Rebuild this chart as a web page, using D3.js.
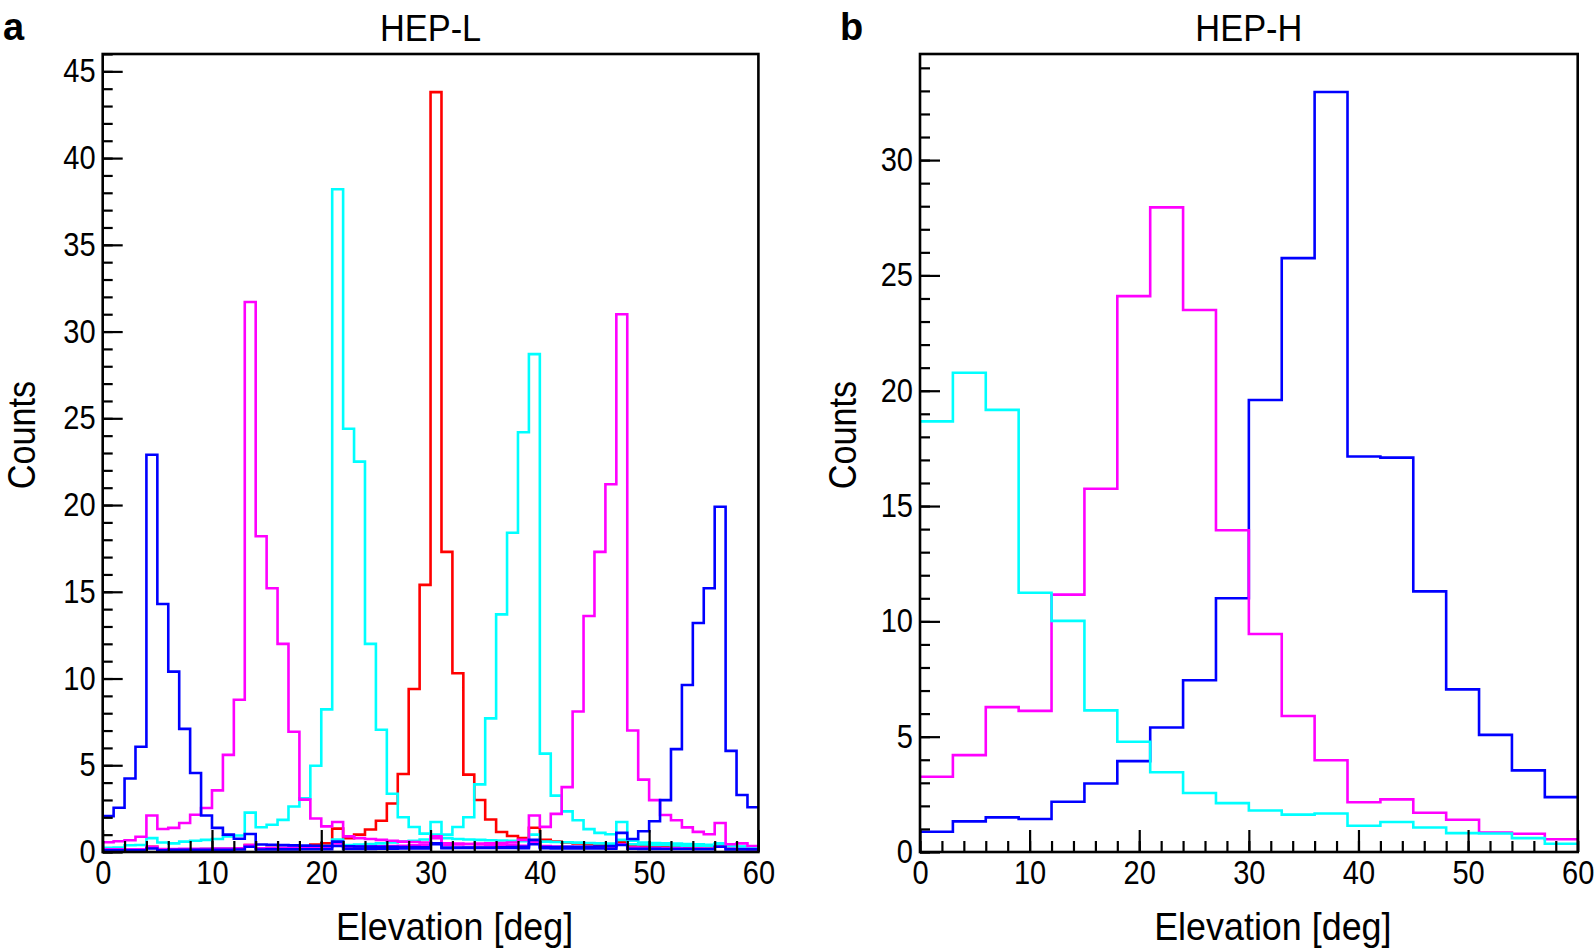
<!DOCTYPE html>
<html>
<head>
<meta charset="utf-8">
<script src="https://cdn.jsdelivr.net/npm/d3@7"></script>
<style>
body { margin: 0; background: #fff; }
svg { display: block; }
text { font-family: "Liberation Sans", Arial, Helvetica, sans-serif; fill: #000; }
</style>
</head>
<body>
<svg id="chart" width="1594" height="949"></svg>
<script>
// ---- data (counts per bin) ----
// HEP-L: 1 deg bins from 0 to 60
var hepL_red   = [0.10,0.10,0.11,0.12,0.30,0.13,0.14,0.15,0.16,0.17, 0.18,0.19,0.20,0.40,0.22,0.24,0.26,0.28,0.30,0.43,
                  0.50,1.35,0.80,1.00,1.30,1.80,2.80,4.50,9.40,15.4, 43.8,17.3,10.3,4.46,3.00,1.87,1.15,0.92,0.80,1.40,
                  0.70,0.60,0.55,0.50,0.45,0.42,0.40,0.60,0.36,0.34, 0.32,0.30,0.28,0.27,0.26,0.25,0.35,0.23,0.22,0.20];
var hepL_cyan1 = [0.24,0.26,0.39,0.40,0.80,0.55,0.50,0.60,0.65,0.70, 0.75,0.90,0.95,2.27,1.43,1.57,1.85,2.62,3.10,4.97,
                  8.22,38.2,24.4,22.5,12.0,7.05,3.36,2.00,1.44,1.06, 1.73,0.80,0.75,0.72,0.70,0.68,0.66,0.64,0.62,1.00,
                  0.60,0.58,0.56,0.54,0.52,0.50,0.48,0.70,0.45,0.43, 0.41,0.40,0.38,0.36,0.35,0.34,0.45,0.32,0.30,0.28];
var hepL_cyan2 = [0.12,0.12,0.13,0.13,0.25,0.14,0.15,0.15,0.16,0.17, 0.18,0.19,0.20,0.35,0.22,0.23,0.25,0.27,0.29,0.31,
                  0.34,0.72,0.40,0.43,0.46,0.50,0.55,0.60,0.65,0.72, 1.00,1.00,1.44,2.00,3.90,7.70,13.7,18.4,24.2,28.7,
                  5.67,3.25,2.34,1.83,1.32,1.10,1.02,1.73,0.65,0.55, 0.52,0.50,0.48,0.46,0.44,0.42,0.50,0.35,0.32,0.30];
var hepL_mag1  = [0.56,0.62,0.68,0.88,2.10,1.33,1.39,1.67,2.15,2.54, 3.55,5.60,8.78,31.7,18.2,15.2,12.0,6.93,3.02,1.93,
                  1.48,1.73,0.90,0.80,0.75,0.70,0.65,0.60,0.58,0.55, 0.90,0.50,0.48,0.46,0.44,0.42,0.40,0.38,0.36,0.60,
                  0.34,0.32,0.30,0.29,0.28,0.27,0.26,0.45,0.25,0.24, 0.23,0.22,0.21,0.20,0.20,0.19,0.30,0.18,0.17,0.16];
var hepL_mag2  = [0.15,0.15,0.16,0.16,0.30,0.17,0.17,0.18,0.18,0.19, 0.20,0.20,0.21,0.40,0.22,0.23,0.24,0.25,0.26,0.27,
                  0.28,0.50,0.30,0.31,0.32,0.33,0.34,0.36,0.38,0.40, 0.80,0.42,0.44,0.46,0.48,0.50,0.52,0.55,0.70,2.10,
                  1.45,2.20,3.74,8.10,13.6,17.3,21.2,31.0,7.00,4.17, 2.99,2.13,1.83,1.42,1.16,1.02,1.67,0.45,0.50,0.35];
var hepL_blue1 = [2.07,2.55,4.24,6.07,22.9,14.3,10.4,7.10,4.55,2.10, 1.39,1.00,0.76,1.04,0.43,0.42,0.40,0.38,0.37,0.36,
                  0.35,0.60,0.33,0.32,0.31,0.30,0.30,0.29,0.28,0.27, 0.50,0.26,0.25,0.25,0.24,0.24,0.23,0.23,0.22,0.45,
                  0.22,0.21,0.21,0.20,0.20,0.20,0.19,0.40,0.19,0.18, 0.18,0.17,0.17,0.17,0.16,0.16,0.30,0.15,0.15,0.15];
var hepL_blue2 = [0.10,0.10,0.10,0.10,0.20,0.10,0.12,0.12,0.12,0.13, 0.13,0.13,0.14,0.30,0.14,0.15,0.15,0.15,0.16,0.16,
                  0.16,0.35,0.17,0.18,0.18,0.19,0.19,0.20,0.20,0.21, 0.45,0.22,0.23,0.24,0.25,0.26,0.27,0.28,0.30,0.70,
                  0.28,0.29,0.30,0.30,0.30,0.32,0.35,1.10,0.75,1.20, 1.77,2.99,5.93,9.63,13.2,15.2,19.9,5.83,3.29,2.58];

// HEP-H: 3 deg bins from 0 to 60
var hepH_blue = [0.88,1.33,1.50,1.43,2.18,2.97,3.94,5.40,7.45,11.0,19.6,25.75,32.95,17.15,17.1,11.3,7.05,5.08,3.54,2.38];
var hepH_mag  = [3.26,4.20,6.28,6.12,11.16,15.75,24.1,27.95,23.5,13.95,9.45,5.90,3.98,2.16,2.28,1.70,1.40,0.84,0.79,0.55];
var hepH_cyan = [18.67,20.78,19.17,11.24,10.02,6.14,4.78,3.46,2.56,2.12,1.80,1.62,1.67,1.14,1.30,1.06,0.82,0.80,0.60,0.36];

var xMajorTicks = [0, 10, 20, 30, 40, 50, 60];


function HistPanel(opts) {
    var self = this;

    self.opts = opts;
    self.svg = d3.select("#chart");
    self.g = self.svg.append("g");

    self.init();
}

HistPanel.prototype.init = function () {
    var self = this;
    var o = self.opts;

    self.scaleX = d3.scaleLinear()
        .domain([0, 60])
        .range([o.left, o.right]);

    self.scaleY = d3.scaleLinear()
        .domain([0, o.yMax])
        .range([o.bottom, o.top]);
};

HistPanel.prototype.draw = function () {
    var self = this;
    var o = self.opts;
    var g = self.g;

    // histograms
    var line = d3.line()
        .x(function (d) { return self.scaleX(d[0]); })
        .y(function (d) { return self.scaleY(d[1]); })
        .curve(d3.curveStepAfter);

    var binW = 60 / o.series[0].values.length;

    g.selectAll('.hist')
        .data(o.series)
        .enter().append('path')
        .classed('hist', true)
        .attr('fill', 'none')
        .attr('stroke', function (d) { return d.color; })
        .attr('stroke-width', 2.6)
        .attr('d', function (d) {
            var pts = d.values.map(function (v, i) { return [i * binW, v]; });
            pts.push([60, d.values[d.values.length - 1]]);
            return line(pts);
        });

    // minor ticks
    g.append('g')
        .attr('transform', 'translate(0,' + o.bottom + ')')
        .call(d3.axisBottom(self.scaleX).tickValues(d3.range(0, 61, 2)).tickSize(-11).tickFormat(''));
    g.append('g')
        .attr('transform', 'translate(' + o.left + ',0)')
        .call(d3.axisLeft(self.scaleY).tickValues(d3.range(0, Math.floor(o.yMax) + 1, 1)).tickSize(-10).tickFormat(''));

    // major ticks with labels
    var xAxis = g.append('g')
        .attr('transform', 'translate(0,' + o.bottom + ')')
        .call(d3.axisBottom(self.scaleX).tickValues(xMajorTicks).tickSize(-22).tickPadding(9));
    var yAxis = g.append('g')
        .attr('transform', 'translate(' + o.left + ',0)')
        .call(d3.axisLeft(self.scaleY).tickValues(o.yTicks).tickSize(-20).tickPadding(8));

    g.selectAll('.domain').remove();
    g.selectAll('.tick line').attr('stroke', '#000').attr('stroke-width', 2.2);
    [xAxis, yAxis].forEach(function (ax) {
        ax.selectAll('text')
            .style('font-family', '"Liberation Sans", Arial, sans-serif')
            .attr('font-size', 33)
            .attr('transform', 'scale(0.88,1)');
    });

    // frame
    g.append('rect')
        .attr('x', o.left)
        .attr('y', o.top)
        .attr('width', o.right - o.left)
        .attr('height', o.bottom - o.top)
        .attr('fill', 'none')
        .attr('stroke', '#000')
        .attr('stroke-width', 2.6);

    // titles
    g.append('text')
        .attr('transform', 'translate(' + ((o.left + o.right) / 2) + ',41) scale(0.93,1)')
        .attr('text-anchor', 'middle')
        .attr('font-size', 37)
        .text(o.title);

    g.append('text')
        .attr('transform', 'translate(' + o.letterX + ',40)')
        .attr('font-size', 38)
        .attr('font-weight', 'bold')
        .text(o.letter);

    g.append('text')
        .attr('transform', 'translate(' + ((o.left + o.right) / 2 + 24) + ',940) scale(0.92,1)')
        .attr('text-anchor', 'middle')
        .attr('font-size', 39)
        .text('Elevation [deg]');

    g.append('text')
        .attr('transform', 'translate(' + (o.left - o.countsOff) + ',' + 435 + ') rotate(-90) scale(0.9,1)')
        .attr('text-anchor', 'middle')
        .attr('font-size', 38)
        .text('Counts');
};


var panelA = new HistPanel({
    left: 102.7, right: 758.4, top: 54, bottom: 852,
    yMax: 46,
    yTicks: [0, 5, 10, 15, 20, 25, 30, 35, 40, 45],
    title: 'HEP-L', letter: 'a', letterX: 3, countsOff: 68,
    series: [
        { color: '#ff0000', values: hepL_red },
        { color: '#00ffff', values: hepL_cyan1 },
        { color: '#00ffff', values: hepL_cyan2 },
        { color: '#ff00ff', values: hepL_mag1 },
        { color: '#ff00ff', values: hepL_mag2 },
        { color: '#0000ff', values: hepL_blue1 },
        { color: '#0000ff', values: hepL_blue2 }
    ]
});
panelA.draw();

var panelB = new HistPanel({
    left: 920, right: 1577.7, top: 54, bottom: 852,
    yMax: 34.6,
    yTicks: [0, 5, 10, 15, 20, 25, 30],
    title: 'HEP-H', letter: 'b', letterX: 840, countsOff: 64,
    series: [
        { color: '#0000ff', values: hepH_blue },
        { color: '#ff00ff', values: hepH_mag },
        { color: '#00ffff', values: hepH_cyan }
    ]
});
panelB.draw();
</script>
</body>
</html>
